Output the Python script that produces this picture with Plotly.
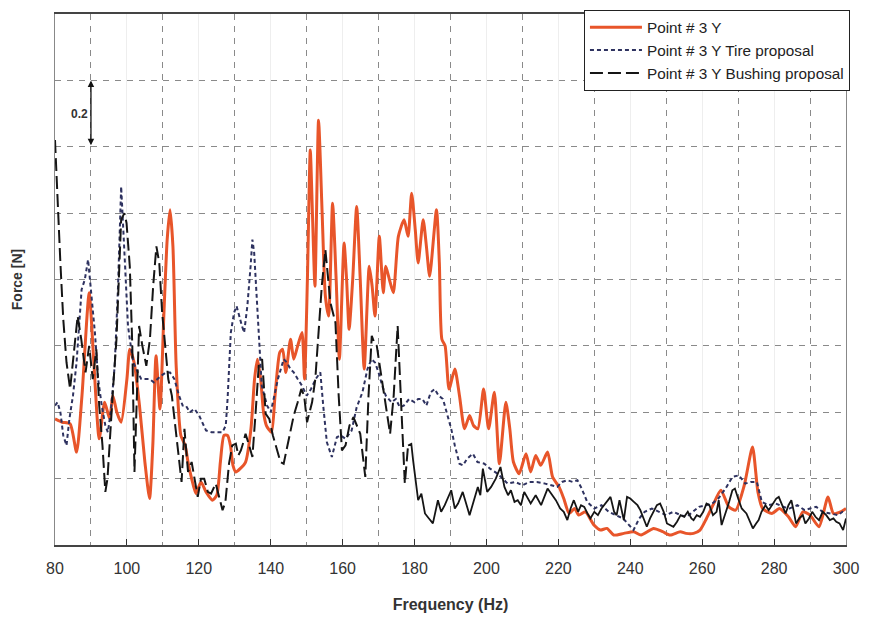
import plotly.graph_objects as go

# ---- Data ----
freq_point3 = [80, 82, 84.2, 86, 87.5, 89.5, 90.8, 92.3, 93.8, 95.2, 96.1, 97.2, 98.4, 100, 100.8, 102,
               103.5, 105, 106.3, 107.2, 108.1, 109.2, 110.3, 111.2, 112, 112.8, 113.7, 115, 116.2, 117,
               118, 119.2, 120.6, 122, 123.8, 125, 126, 127, 128, 128.8, 129.5, 130.3, 131.5, 133, 134.5,
               135.5, 136.3, 137.2, 138, 138.8, 140.2, 141.2, 142.5, 143.3, 144.2, 145.5, 146.4, 147.5,
               148.7, 149.4, 150.2, 151, 151.6, 152.3, 153.3, 154.3, 155.2, 156.1, 157.2, 158.2, 159.1,
               160.4, 161.1, 161.8, 162.8, 163.9, 164.9, 166, 167.4, 168.2, 169, 170.2, 171.3, 172, 173,
               174.1, 175.5, 177.1, 178.2, 179.2, 180.2, 181, 182.4, 183.3, 184.2, 186.1, 186.9, 187.6,
               188.5, 189.6, 191.2, 192.5, 193.9, 195.3, 196.4, 197.6, 199.2, 200.6, 202.2, 203.6, 205.4,
               206.5, 207.5, 209.1, 211, 212.3, 213.7, 215.1, 217, 218.4, 220.2, 221.5, 223, 224.5, 225.7,
               227.5, 229.9, 231.7, 233.5, 235.4, 238.2, 240.9, 243, 246.5, 249, 251.1, 253.9, 255.5,
               257.6, 259.4, 261.2, 263, 265.2, 267.4, 269.3, 271.7, 274, 275.5, 276.8, 279.4, 281.5, 284,
               286, 288, 290, 292.5, 295, 296.5, 298.5, 300]
force_point3 = [0.38, 0.37, 0.365, 0.28, 0.45, 0.76, 0.55, 0.32, 0.43, 0.38, 0.45, 0.40, 0.37, 0.50, 0.59, 0.55,
                0.42, 0.25, 0.14, 0.30, 0.57, 0.41, 0.70, 0.92, 1.01, 0.90, 0.54, 0.33, 0.30, 0.25,
                0.20, 0.155, 0.19, 0.16, 0.135, 0.15, 0.25, 0.33, 0.33, 0.30, 0.24, 0.22, 0.23, 0.25, 0.35,
                0.50, 0.56, 0.50, 0.40, 0.36, 0.34, 0.45, 0.58, 0.59, 0.52, 0.62, 0.56, 0.60,
                0.64, 0.50, 0.80, 1.19, 1.00, 0.78, 1.28, 1.00, 0.75, 0.69, 1.03, 0.80, 0.56,
                0.91, 0.80, 0.65, 0.80, 1.02, 0.80, 0.53, 0.84, 0.78, 0.69, 0.93, 0.76, 0.84, 0.80,
                0.76, 0.93, 0.98, 0.93, 1.06, 0.95, 0.85, 0.98, 0.90, 0.81, 1.01, 0.85, 0.62,
                0.60, 0.47, 0.53, 0.45, 0.35, 0.39, 0.36, 0.35, 0.47, 0.35, 0.46, 0.245, 0.43,
                0.35, 0.25, 0.215, 0.275, 0.22, 0.27, 0.24, 0.28, 0.205, 0.175, 0.14, 0.095, 0.11, 0.09,
                0.10, 0.06, 0.045, 0.05, 0.03, 0.035, 0.04, 0.03, 0.05, 0.04, 0.03, 0.04, 0.035,
                0.035, 0.045, 0.08, 0.12, 0.165, 0.115, 0.105, 0.18, 0.295, 0.16, 0.11, 0.095, 0.11, 0.085,
                0.055, 0.10, 0.09, 0.055, 0.145, 0.095, 0.10, 0.11]

freq_tire = [80, 80.7, 81.5, 82.3, 83.2, 84, 85, 86, 87.4, 88.3, 89.2, 90.1, 91.1, 92, 93, 94, 94.7, 95.5,
             96.6, 97.5, 98, 98.4, 99, 99.7, 100.3, 100.8, 101.8, 103, 104, 105.2, 106.3, 107.5, 108.5,
             109.5, 110.9, 112, 113.2, 114.5, 115.5, 116.4, 117.5, 118.8, 120.1, 121, 122, 123.5, 125,
             126.6, 127.5, 128, 128.9, 129.8, 130.5, 131.2, 132, 132.6, 133.5, 134.4, 134.9, 135.4,
             135.8, 136.7, 137.5, 139, 140, 141, 142, 143.6, 144.5, 145.5, 146.4, 147.5, 148.7, 150,
             151.2, 152.5, 153.8, 154.6, 155.6, 157, 158.4, 159.5, 160.8, 162.5, 163.9, 165.5, 166.9,
             168, 169, 170, 171, 172, 173.6, 174.8, 175.9, 177, 178.5, 180, 181, 182.2, 183.3, 184.5,
             185.6, 186.7, 187.9, 189.3, 190.2, 191.2, 192.5, 193.5, 194.6, 196.2, 197.5, 199.4, 201,
             203.1, 204.5, 205.9, 208, 210, 212, 214, 216.3, 218, 219.7, 221, 222.5, 224, 225.3, 226.5,
             228, 230, 232, 234, 236, 238, 240.9, 242.5, 244, 246, 248, 250, 252, 254, 255.7, 257.5,
             259.1, 261, 262.8, 264.5, 266.5, 268.4, 270.2, 272, 273.5, 275.2, 276.6, 278.5, 280.5,
             282.5, 284.3, 286.5, 288.5, 290, 291.7, 293.5, 295.5, 297.8, 299, 300]
force_tire = [0.42, 0.43, 0.40, 0.33, 0.30, 0.38, 0.45, 0.55, 0.77, 0.80, 0.86, 0.75, 0.64, 0.50, 0.42, 0.36, 0.34, 0.40,
              0.54, 0.77, 0.95, 1.08, 0.95, 0.78, 0.66, 0.62, 0.55, 0.52, 0.50, 0.50, 0.50, 0.49, 0.50,
              0.51, 0.52, 0.52, 0.50, 0.45, 0.42, 0.42, 0.40, 0.41, 0.39, 0.37, 0.345, 0.34, 0.34,
              0.34, 0.36, 0.44, 0.64, 0.70, 0.72, 0.69, 0.66, 0.64, 0.72, 0.84, 0.92, 0.88,
              0.80, 0.60, 0.48, 0.42, 0.40, 0.45, 0.50, 0.56, 0.55, 0.53, 0.52, 0.50, 0.48, 0.45,
              0.47, 0.50, 0.52, 0.42, 0.31, 0.265, 0.325, 0.33, 0.32, 0.345, 0.415, 0.46, 0.53,
              0.56, 0.55, 0.52, 0.48, 0.45, 0.43, 0.44, 0.415, 0.42, 0.44, 0.43, 0.44, 0.44, 0.42, 0.46,
              0.47, 0.45, 0.44, 0.385, 0.35, 0.30, 0.245, 0.24, 0.26, 0.275, 0.25, 0.245, 0.23,
              0.215, 0.20, 0.185, 0.19, 0.18, 0.19, 0.19, 0.185, 0.18, 0.175, 0.19, 0.195, 0.19, 0.195, 0.17,
              0.13, 0.11, 0.12, 0.10, 0.09, 0.08, 0.045, 0.08, 0.10, 0.11, 0.10, 0.09, 0.10, 0.09, 0.085, 0.10,
              0.115, 0.12, 0.125, 0.14, 0.17, 0.205, 0.21, 0.185, 0.19, 0.19, 0.13, 0.12, 0.125,
              0.115, 0.11, 0.12, 0.105, 0.11, 0.115, 0.10, 0.095, 0.09, 0.10, 0.095]

freq_bushing = [80, 80.8, 81.5, 82.3, 83.2, 84.2, 85, 86.3, 87.3, 88.5, 89.5, 90.5, 91.5, 92.3, 93.2, 94, 94.6,
                95.3, 96.2, 97.1, 97.8, 98.4, 99.3, 99.9, 100.8, 101.5, 102.1, 102.8, 103.4, 104.3, 105.4,
                106.4, 107.3, 108.2, 109, 109.8, 110.6, 111.5, 112.5, 113.5, 114.3, 115.2, 116, 117, 118,
                119.7, 120.6, 121.5, 122.5, 123.4, 124.7, 125.7, 126.6, 127.4, 128.4, 129.3, 130.3, 131,
                131.7, 132.4, 133, 134, 134.9, 135.8, 136.7, 137.6, 138.6, 139.6, 140.6, 141.8, 142.7,
                143.6, 144.6, 145.5, 146.4, 147.5, 148.5, 149.3, 150.1, 150.8, 151.5, 152.4, 153.3, 154.2,
                155.2, 155.9, 156.6, 157.3, 158, 158.9, 159.8, 160.8, 161.9, 163, 163.9, 164.9, 165.6,
                166.3, 167.2, 168.1, 168.8, 169.5, 170.6, 171.8, 172.5, 173.2, 174.2, 175.3, 176.3, 177.3,
                178.2, 179.1, 179.6, 180.3, 181, 181.9, 182.9, 184, 185.1, 186.5, 187.4, 188.4, 189.3,
                190.2, 191.2, 192.1, 193.4, 194.4, 195.3, 196.4, 197.6, 198.3, 199, 200.2, 201.3, 202.6,
                203.9, 205, 206, 206.8, 207.8, 208.7, 209.6, 210.5, 211.4, 212.3, 213.7, 215.2, 217,
                218.2, 219.3, 220.5, 221.5, 222.5, 223.4, 224.3, 225.5, 226.3, 227.2, 228.1, 228.9, 230,
                231, 232, 233.4, 234.5, 235.5, 236.2, 237, 237.6, 238.2, 239.1, 240, 241, 242, 242.8,
                243.7, 244.6, 245.5, 246.5, 247.4, 248.3, 249.3, 250.2, 251, 252, 253, 254, 255, 256,
                257, 257.6, 258.5, 259.4, 260.3, 261.2, 262, 263, 264, 264.6, 265.4, 266.5, 267.5, 268.4,
                269.1, 270, 271, 272.3, 273.2, 274.1, 275, 275.7, 276.5, 277.6, 278.5, 279.5, 280.6,
                281.3, 282.2, 283.2, 284, 284.8, 285.5, 286.1, 287, 288, 288.7, 289.7, 290.6, 291.5,
                292.5, 293.5, 294.5, 295.5, 296.5, 297.3, 298.2, 299.2, 300]
force_bushing = [1.22, 1.00, 0.85, 0.68, 0.55, 0.47, 0.55, 0.69, 0.62, 0.52, 0.60, 0.50, 0.59, 0.42, 0.30, 0.16, 0.20,
                 0.34, 0.48, 0.62, 0.85, 0.98, 1.00, 0.97, 0.84, 0.60, 0.22, 0.45, 0.66, 0.60, 0.54,
                 0.62, 0.78, 0.90, 0.85, 0.70, 0.60, 0.50, 0.45, 0.35, 0.26, 0.19, 0.35, 0.22, 0.25,
                 0.145, 0.20, 0.20, 0.16, 0.155, 0.185, 0.14, 0.105, 0.13, 0.245, 0.30, 0.305, 0.27,
                 0.285, 0.31, 0.335, 0.30, 0.265, 0.40, 0.545, 0.56, 0.395, 0.38, 0.33, 0.285, 0.25,
                 0.245, 0.30, 0.345, 0.39, 0.43, 0.47, 0.45, 0.37, 0.40, 0.43, 0.50, 0.63, 0.78,
                 0.89, 0.80, 0.73, 0.70, 0.67, 0.45, 0.285, 0.30, 0.36, 0.385, 0.36, 0.335, 0.27,
                 0.205, 0.45, 0.63, 0.61, 0.60, 0.52, 0.43, 0.38, 0.335, 0.45, 0.66, 0.42, 0.185,
                 0.30, 0.305, 0.255, 0.20, 0.135, 0.155, 0.095, 0.08, 0.065, 0.135, 0.10, 0.12, 0.14,
                 0.165, 0.11, 0.125, 0.16, 0.12, 0.09, 0.13, 0.175, 0.15, 0.23, 0.16, 0.175, 0.20,
                 0.235, 0.175, 0.15, 0.165, 0.13, 0.135, 0.12, 0.16, 0.14, 0.125, 0.15, 0.12, 0.17,
                 0.15, 0.135, 0.11, 0.10, 0.075, 0.11, 0.135, 0.10, 0.12, 0.115, 0.095, 0.08, 0.10,
                 0.09, 0.11, 0.13, 0.145, 0.10, 0.09, 0.135, 0.10, 0.075, 0.145, 0.14, 0.13, 0.12, 0.105,
                 0.08, 0.055, 0.08, 0.10, 0.12, 0.125, 0.10, 0.065, 0.06, 0.055, 0.07, 0.09, 0.085, 0.10,
                 0.08, 0.075, 0.09, 0.085, 0.10, 0.125, 0.12, 0.09, 0.10, 0.135, 0.06, 0.095, 0.13, 0.165,
                 0.17, 0.14, 0.11, 0.095, 0.07, 0.05, 0.065, 0.075, 0.10, 0.12, 0.105, 0.12, 0.14,
                 0.145, 0.12, 0.095, 0.12, 0.135, 0.10, 0.065, 0.08, 0.09, 0.065, 0.08, 0.10, 0.085,
                 0.075, 0.10, 0.09, 0.075, 0.08, 0.07, 0.065, 0.045, 0.08]

series_names = ["Point # 3 Y", "Point # 3 Y Tire proposal", "Point # 3 Y Bushing proposal"]
x_ticks = [80, 100, 120, 140, 160, 180, 200, 220, 240, 260, 280, 300]
bushing_split_hz = 178.2  # dash pattern renders as solid on the dense low part of the scan

# ---- Figure ----
ORANGE = "#E8552A"
NAVY = "#2E3260"
BLACK = "#151515"
FONT = "Liberation Sans, Arial, sans-serif"

fig = go.Figure()

fig.add_trace(go.Scatter(x=freq_point3, y=force_point3, mode="lines", name=series_names[0],
                         line=dict(color=ORANGE, width=3, shape="spline", smoothing=0.6)))
fig.add_trace(go.Scatter(x=freq_tire, y=force_tire, mode="lines", name=series_names[1],
                         line=dict(color=NAVY, width=2, dash="4px,3px")))

i_split = freq_bushing.index(bushing_split_hz)
fig.add_trace(go.Scatter(x=freq_bushing[:i_split + 1], y=force_bushing[:i_split + 1], mode="lines",
                         name=series_names[2], line=dict(color=BLACK, width=2, dash="13px,5px")))
fig.add_trace(go.Scatter(x=freq_bushing[i_split:], y=force_bushing[i_split:], mode="lines",
                         name=series_names[2], showlegend=False,
                         line=dict(color=BLACK, width=1.8)))

fig.update_layout(
    width=869, height=621,
    margin=dict(l=55, r=19, t=10, b=76),
    paper_bgcolor="white", plot_bgcolor="white",
    font=dict(family=FONT, size=16, color="#333"),
    showlegend=True,
    legend=dict(x=1.005, y=1.008, xanchor="right", yanchor="top",
                bgcolor="white", bordercolor="#222", borderwidth=1,
                font=dict(size=15.3, color="#222"), tracegroupgap=0,
                itemwidth=52),
    xaxis=dict(range=[80, 300], tickvals=x_ticks, ticktext=[str(v) for v in x_ticks],
               ticks="inside", ticklen=6, tickcolor="#333",
               ticklabelstandoff=8,
               showline=True, linecolor="#444", linewidth=1.5, mirror=True,
               showgrid=True, gridcolor="#EEEEEE", gridwidth=1,
               minor=dict(dtick=10, tick0=80, showgrid=True, gridcolor="#8a8a8a",
                          griddash="6px,6px", gridwidth=1, ticks=""),
               tickfont=dict(size=16, color="#333"),
               title=dict(text="<b>Frequency (Hz)</b>", font=dict(size=16, color="#333"), standoff=23),
               zeroline=False),
    yaxis=dict(range=[0, 1.6], dtick=0.2, showticklabels=False, ticks="",
               showline=True, linecolor="#888", linewidth=1, mirror=True,
               showgrid=True, gridcolor="#8a8a8a", griddash="6px,6px", gridwidth=1,
               title=dict(text="<b>Force [N]</b>", font=dict(size=14, color="#333"), standoff=28),
               zeroline=False),
)

# scale indicator: 0.2 N between two gridlines
fig.add_annotation(x=90, y=1.4, ax=90, ay=1.2, xref="x", yref="y", axref="x", ayref="y",
                   text="", showarrow=True, arrowhead=2, startarrowhead=2, arrowside="end+start",
                   arrowsize=1, arrowwidth=1.3, arrowcolor="#111")
fig.add_annotation(x=89.6, y=1.3, xref="x", yref="y", text="<b>0.2</b>", showarrow=False,
                   xanchor="right", font=dict(size=12, color="#333"))

fig.write_html("out.html")
